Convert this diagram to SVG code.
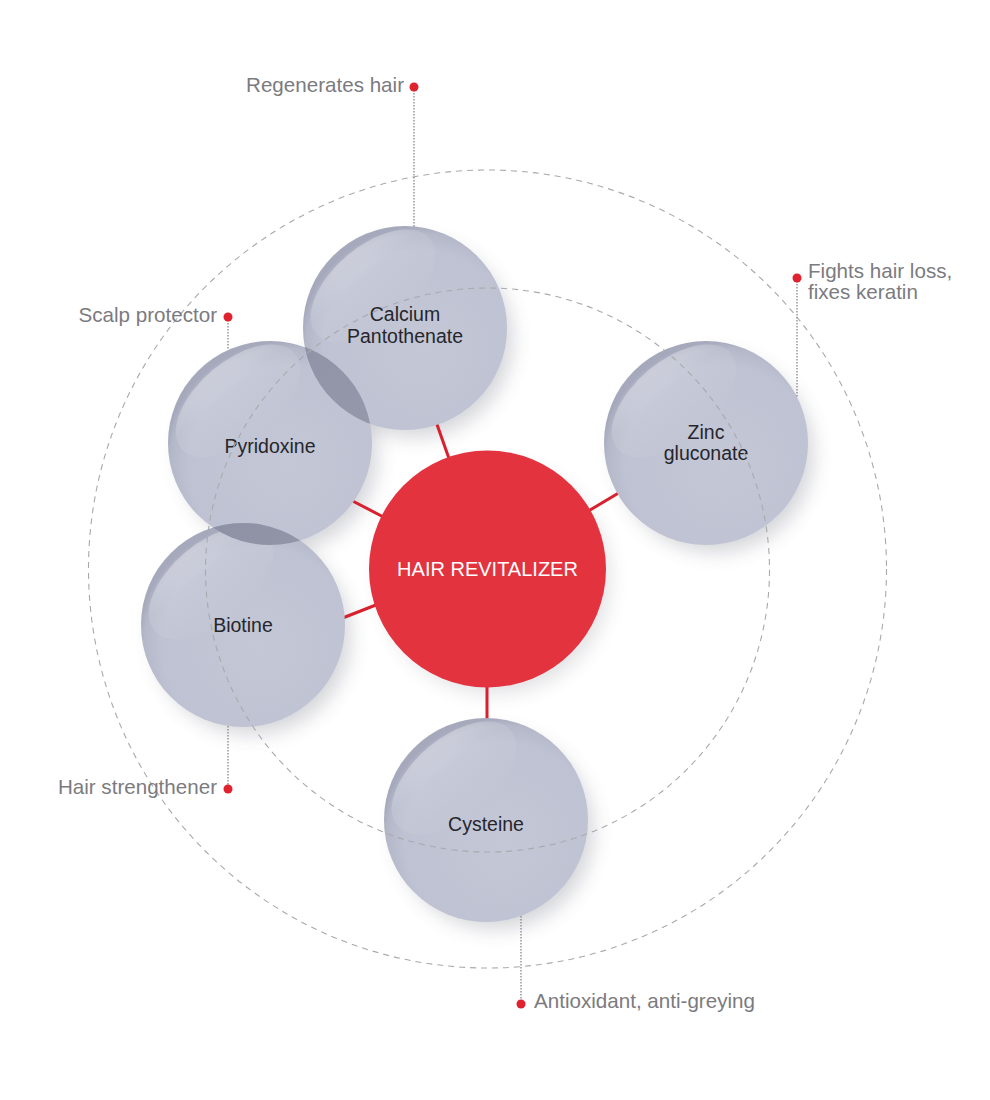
<svg xmlns="http://www.w3.org/2000/svg" width="990" height="1100" viewBox="0 0 990 1100">
<style>
.lbl{font-family:"Liberation Sans",Arial,sans-serif;font-size:20.6px;fill:#7b7b7f}
.nt{font-family:"Liberation Sans",Arial,sans-serif;font-size:19.5px;fill:#26262c;text-anchor:middle}
.ct{font-family:"Liberation Sans",Arial,sans-serif;font-size:20px;fill:#ffffff;text-anchor:middle}
.ball{fill:url(#ballG)}
.hl{fill:url(#hlG)}
.shadow{fill:#3a3e50;opacity:0.22;filter:url(#blur)}
.conn{stroke:#d7212e;stroke-width:3;fill:none}
.dash{fill:none;stroke:#a9a9ae;stroke-width:1.1;stroke-dasharray:6 5}
.dot-line{stroke:#7d7d82;stroke-width:1.2;stroke-dasharray:1.4 1.6;fill:none}
.dot{fill:#e0222f}
.ovl{fill:url(#ovG)}
</style>
<defs>
<radialGradient id="ballG" cx="0.58" cy="0.6" r="0.6">
<stop offset="0" stop-color="#c3c7d6"/>
<stop offset="0.8" stop-color="#bec2d2"/>
<stop offset="0.94" stop-color="#b4b8c9"/>
<stop offset="1" stop-color="#a5a9bb"/>
</radialGradient>
<linearGradient id="hlG" x1="0" y1="0" x2="0" y2="1">
<stop offset="0" stop-color="#ffffff" stop-opacity="0.34"/>
<stop offset="0.35" stop-color="#ffffff" stop-opacity="0.12"/>
<stop offset="1" stop-color="#ffffff" stop-opacity="0"/>
</linearGradient>
<linearGradient id="ovG" x1="0" y1="0" x2="1" y2="1">
<stop offset="0" stop-color="#8b8fa1"/>
<stop offset="1" stop-color="#989cae"/>
</linearGradient>
<filter id="blur" x="-50%" y="-50%" width="200%" height="200%">
<feGaussianBlur stdDeviation="10"/>
</filter>
<clipPath id="clipCal"><circle cx="405" cy="328" r="102"/></clipPath>
<clipPath id="clipPyr"><circle cx="270" cy="443" r="102"/></clipPath>
</defs>
<rect width="990" height="1100" fill="#ffffff"/>

<g id="shadows">
<circle class="shadow" cx="414" cy="339" r="98"/>
<circle class="shadow" cx="279" cy="454" r="98"/>
<circle class="shadow" cx="252" cy="636" r="98"/>
<circle class="shadow" cx="715" cy="454" r="98"/>
<circle class="shadow" cx="495" cy="831" r="98"/>
<circle class="shadow" cx="495" cy="579" r="114" style="opacity:0.16"/>
</g>

<g id="connectors">
<line class="conn" x1="434" y1="416" x2="452" y2="467"/>
<line class="conn" x1="345" y1="497" x2="393" y2="522"/>
<line class="conn" x1="335" y1="621" x2="386" y2="601"/>
<line class="conn" x1="580" y1="516" x2="627" y2="488"/>
<line class="conn" x1="487" y1="680" x2="487" y2="728"/>
</g>

<g id="node-calcium" transform="translate(405,328)">
<circle class="ball" r="102"/>
<ellipse class="hl" cx="-32" cy="-42" rx="74" ry="40" transform="rotate(-40 -32 -42)"/>
<text class="nt" x="0" y="-7">Calcium</text>
<text class="nt" x="0" y="15">Pantothenate</text>
</g>

<g id="node-pyridoxine" transform="translate(270,443)">
<circle class="ball" r="102"/>
<ellipse class="hl" cx="-32" cy="-42" rx="74" ry="40" transform="rotate(-40 -32 -42)"/>
<text class="nt" x="0" y="10">Pyridoxine</text>
</g>

<g id="node-biotine" transform="translate(243,625)">
<circle class="ball" r="102"/>
<ellipse class="hl" cx="-32" cy="-42" rx="74" ry="40" transform="rotate(-40 -32 -42)"/>
<text class="nt" x="0" y="7">Biotine</text>
</g>

<g id="overlaps">
<circle class="ovl" cx="270" cy="443" r="102" clip-path="url(#clipCal)"/>
<circle class="ovl" cx="243" cy="625" r="102" clip-path="url(#clipPyr)"/>
<ellipse class="hl" cx="211" cy="583" rx="74" ry="40" transform="rotate(-40 211 583)" clip-path="url(#clipPyr)" style="opacity:0.6"/>
</g>

<g id="node-zinc" transform="translate(706,443)">
<circle class="ball" r="102"/>
<ellipse class="hl" cx="-32" cy="-42" rx="74" ry="40" transform="rotate(-40 -32 -42)"/>
<text class="nt" x="0" y="-4">Zinc</text>
<text class="nt" x="0" y="17">gluconate</text>
</g>

<g id="node-cysteine" transform="translate(486,820)">
<circle class="ball" r="102"/>
<ellipse class="hl" cx="-32" cy="-42" rx="74" ry="40" transform="rotate(-40 -32 -42)"/>
<text class="nt" x="0" y="11">Cysteine</text>
</g>

<g id="node-center" transform="translate(487.5,569)">
<circle r="118.5" fill="#e2333f"/>
<text class="ct" x="0" y="7">HAIR REVITALIZER</text>
</g>

<g id="rings">
<circle class="dash" cx="487.5" cy="569" r="399"/>
<circle class="dash" cx="487.5" cy="570" r="282"/>
</g>

<g id="label-regenerates">
<line class="dot-line" x1="414" y1="90" x2="414" y2="227"/>
<circle class="dot" cx="414" cy="87" r="4.5"/>
<text class="lbl" x="404" y="92" text-anchor="end">Regenerates hair</text>
</g>
<g id="label-scalp">
<line class="dot-line" x1="228" y1="320" x2="228" y2="350"/>
<circle class="dot" cx="228" cy="317" r="4.5"/>
<text class="lbl" x="217" y="322" text-anchor="end">Scalp protector</text>
</g>
<g id="label-strengthener">
<line class="dot-line" x1="228" y1="726" x2="228" y2="786"/>
<circle class="dot" cx="228" cy="789" r="4.5"/>
<text class="lbl" x="217" y="794" text-anchor="end">Hair strengthener</text>
</g>
<g id="label-antioxidant">
<line class="dot-line" x1="521" y1="916" x2="521" y2="1001"/>
<circle class="dot" cx="521" cy="1004" r="4.5"/>
<text class="lbl" x="534" y="1008">Antioxidant, anti-greying</text>
</g>
<g id="label-fights">
<line class="dot-line" x1="797" y1="281" x2="797" y2="397"/>
<circle class="dot" cx="797" cy="278" r="4.5"/>
<text class="lbl" x="808" y="278">Fights hair loss,</text>
<text class="lbl" x="808" y="299">fixes keratin</text>
</g>
</svg>
